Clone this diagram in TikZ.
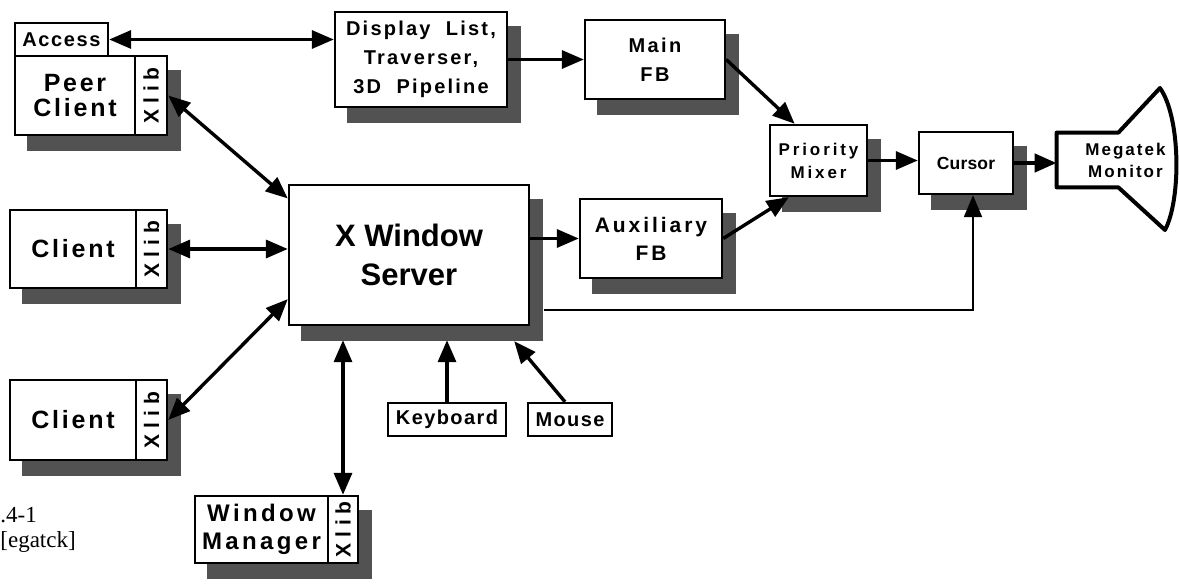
\documentclass[tikz,border=0pt]{standalone}
\usepackage{fontspec}
\setmainfont{Liberation Serif}
% size, line skip, letter spacing
\newcommand\boxtext[3]{\fontspec{Liberation Sans Bold}[LetterSpace=#3]\fontsize{#1}{#2}\selectfont}
\usetikzlibrary{arrows.meta, calc, backgrounds}

\begin{document}
\begin{tikzpicture}[x=1pt, y=-1pt, thick, text=black, draw=black,
    >={Triangle[length=22pt, width=18pt]},
    box/.style={draw, line width=2.4pt, fill=white, inner sep=0pt, align=center},
    xlib/.style={box, font=\boxtext{21}{24}{28}},
    boxshadow/.style={fill=black!68},
    link/.style={line width=3.4pt},
    thinlink/.style={line width=2.2pt}]

        \useasboundingbox (0,0) rectangle (1179,585);

        % Define the clients on the left (text part and Xlib strip)
        \node[box, minimum width=93pt, minimum height=33pt, font=\boxtext{20}{22}{8}] (access) at (61.5,39.5) {Access};
        \node[box, minimum width=120pt, minimum height=79pt, font=\boxtext{25}{25}{11}] (peer) at (75,95.5) {Peer\\Client};
        \node[xlib, minimum width=32pt, minimum height=79pt] (peerx) at (151,95.5) {\rotatebox{90}{Xlib}};
        \node[box, minimum width=126pt, minimum height=78pt, font=\boxtext{25}{25}{11}] (client) at (73,249) {Client};
        \node[xlib, minimum width=31pt, minimum height=78pt] (clientx) at (151.5,249) {\rotatebox{90}{Xlib}};
        \node[box, minimum width=126pt, minimum height=80pt, font=\boxtext{25}{25}{11}] (clientb) at (73,420) {Client};
        \node[xlib, minimum width=31pt, minimum height=80pt] (clientbx) at (151.5,420) {\rotatebox{90}{Xlib}};
        \node[box, minimum width=133pt, minimum height=67pt, font=\boxtext{24}{28}{14}] (wm) at (261.5,529.5) {Window\\Manager};
        \node[xlib, minimum width=30pt, minimum height=67pt] (wmx) at (343,529.5) {\rotatebox{90}{Xlib}};

        % Server and its inputs
        \node[box, minimum width=240pt, minimum height=140pt, font=\boxtext{31}{39}{0}] (server) at (409,255) {X Window\\Server};
        \node[box, minimum width=118pt, minimum height=33pt, font=\boxtext{20}{22}{7}] (kbd) at (447,419.5) {Keyboard};
        \node[box, minimum width=84pt, minimum height=33pt, font=\boxtext{20}{22}{7}] (mouse) at (570,419.5) {Mouse};

        % The graphics pipeline along the top and right
        \node[box, minimum width=172pt, minimum height=95pt, font=\boxtext{20}{29}{11}] (dlist) at (421,59.5) {Display\ \ List,\\Traverser,\\3D\ \ Pipeline};
        \node[box, minimum width=140pt, minimum height=79pt, font=\boxtext{20}{29}{12}] (mainfb) at (655,59.5) {Main\\FB};
        \node[box, minimum width=142pt, minimum height=79pt, font=\boxtext{21}{28}{14}] (auxfb) at (651,238.5) {Auxiliary\\FB};
        \node[box, minimum width=97pt, minimum height=71pt, font=\boxtext{17}{23}{17}] (prio) at (818.5,160.5) {Priority\\Mixer};
        \node[box, minimum width=94pt, minimum height=62pt, font=\boxtext{17.5}{22}{1}] (cursor) at (966,163) {Cursor};
        \node[minimum width=61pt, minimum height=54pt, inner sep=0pt] (monitor) at (1087.5,160) {};
        \draw[line width=4pt, line join=round] (monitor.north east) -- (monitor.north west) -- (monitor.south west)
            -- (monitor.south east) -- (1165,230) .. controls (1181,200) and (1181,118) .. (1160,88) -- cycle;
        \node[font=\boxtext{17}{22}{12}, align=center] (montext) at ([xshift=38pt]monitor.center) {Megatek\\Monitor};

        % Drop shadows behind the boxes
        \begin{scope}[on background layer]
            \foreach \a/\b in {peer/peerx, client/clientx, clientb/clientbx, wm/wmx,
                    server/server, dlist/dlist, mainfb/mainfb, auxfb/auxfb, prio/prio, cursor/cursor}
                \fill[boxshadow] ($(\a.north west)+(13,15)$) rectangle ($(\b.south east)+(13,15)$);
        \end{scope}

        % Connections between the clients and the server
        \draw[link, <->] (access.east) -- (access.east -| dlist.west);
        \draw[link, <->] (peerx.east) -- (server.155);
        \draw[link, <->] (clientx.east) -- (clientx.east -| server.west);
        \draw[link, <->] (clientbx.east) -- (server.200);
        \draw[link, <->] (wmx.north) -- ($(wmx.north |- server.south)+(0,14)$);
        \draw[link, ->] (kbd.north) -- ($(kbd.north |- server.south)+(0,14)$);
        \draw[link, ->] ([xshift=-5pt]mouse.north) -- ($(server.south east)+(-16,15)$);

        % Connections along the pipeline
        \draw[link, ->] (dlist.east) -- (mainfb.west);
        \draw[link, ->] (mainfb.east) -- (prio.123);
        \draw[link, ->] (auxfb.west -| server.east) -- (auxfb.west);
        \draw[link, ->] (auxfb.east) -- (prio.231);
        \draw[link, ->] (prio.east) -- (prio.east -| cursor.west);
        \draw[link, line width=4.5pt, ->] (cursor.east) -- (cursor.east -| monitor.west);

        % Thin feedback line from the server to the cursor
        \coordinate (bend) at (973,310);
        \draw[thinlink, ->] ($(server.east |- bend)+(14,0)$) -- (bend) -- (bend |- cursor.south);

        % Partly cut caption at the lower left
        \node[anchor=base west, font=\fontsize{23}{26}\selectfont, inner sep=0pt] (capa) at (0,522) {.4-1};
        \node[anchor=base west, font=\fontsize{23}{26}\selectfont, inner sep=0pt] (capb) at (0,547) {[egatck]};

      \end{tikzpicture}
\end{document}
